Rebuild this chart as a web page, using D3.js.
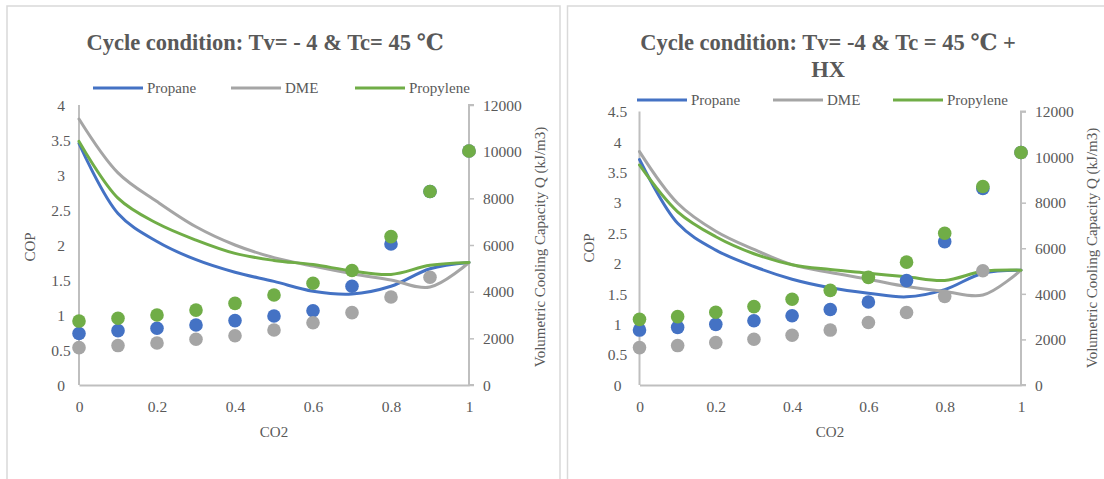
<!DOCTYPE html>
<html>
<head>
<meta charset="utf-8">
<script src="https://cdn.jsdelivr.net/npm/d3@7"></script>
<style>
  html, body { margin: 0; padding: 0; background: #fff; }
  svg { display: block; }
  text { font-family: "Liberation Serif", "Times New Roman", "DejaVu Serif", serif; fill: #595959; }
</style>
</head>
<body>
<svg id="chart" width="1104" height="479"></svg>
<script>
// ---------- data ----------
const co2 = [0, 0.1, 0.2, 0.3, 0.4, 0.5, 0.6, 0.7, 0.8, 0.9, 1];
const seriesNames = ["Propane", "DME", "Propylene"];
const titleA = ["Cycle condition: Tv= - 4  & Tc= 45 \u2103"];
const titleB = ["Cycle condition: Tv= -4 & Tc = 45 \u2103  +", "HX"];
const xTicks = [0, 0.2, 0.4, 0.6, 0.8, 1];
const copTicksA = [0, 0.5, 1, 1.5, 2, 2.5, 3, 3.5, 4];
const copTicksB = [0, 0.5, 1, 1.5, 2, 2.5, 3, 3.5, 4, 4.5];
const qTicks = [0, 2000, 4000, 6000, 8000, 10000, 12000];

// Chart A (no HX): COP (lines, left axis)
const copPropaneA   = [3.45, 2.45, 2.05, 1.79, 1.61, 1.48, 1.34, 1.30, 1.41, 1.66, 1.75];
const copDmeA       = [3.80, 3.03, 2.62, 2.26, 2.00, 1.82, 1.70, 1.59, 1.50, 1.40, 1.75];
const copPropyleneA = [3.48, 2.67, 2.31, 2.07, 1.88, 1.78, 1.72, 1.63, 1.58, 1.71, 1.75];
// Chart A: volumetric cooling capacity (points, right axis)
const qPropaneA   = [2210, 2330, 2430, 2570, 2760, 2960, 3180, 4230, 6040, 8290, 10030];
const qDmeA       = [1600, 1690, 1800, 1960, 2110, 2360, 2670, 3100, 3770, 4620, 10030];
const qPropyleneA = [2740, 2860, 3000, 3210, 3500, 3860, 4360, 4910, 6360, 8290, 10030];

// Chart B (+HX): COP
const copPropaneB   = [3.71, 2.66, 2.22, 1.95, 1.74, 1.60, 1.51, 1.45, 1.57, 1.84, 1.89];
const copDmeB       = [3.84, 2.99, 2.53, 2.23, 1.98, 1.85, 1.74, 1.62, 1.54, 1.48, 1.89];
const copPropyleneB = [3.62, 2.85, 2.44, 2.16, 1.98, 1.90, 1.84, 1.78, 1.72, 1.87, 1.89];
// Chart B: volumetric cooling capacity
const qPropaneB   = [2410, 2530, 2660, 2820, 3040, 3310, 3640, 4580, 6290, 8620, 10200];
const qDmeB       = [1640, 1730, 1860, 2010, 2180, 2410, 2740, 3180, 3890, 5010, 10200];
const qPropyleneB = [2880, 3000, 3190, 3440, 3760, 4150, 4720, 5390, 6660, 8710, 10200];

// ---------- styling ----------
const colors = { "Propane": "#4472C4", "DME": "#A5A5A5", "Propylene": "#70AD47" };
const axisColor = "#BFBFBF";
const fmt = d => String(d);

const svg = d3.select("#chart");
svg.append("rect").attr("width", 1104).attr("height", 479).attr("fill", "#fff");

// panel frames
svg.append("rect").attr("x", 7).attr("y", 6).attr("width", 553).attr("height", 480)
  .attr("fill", "none").attr("stroke", "#D9D9D9").attr("stroke-width", 1.5);
svg.append("rect").attr("x", 567.5).attr("y", 6).attr("width", 560).attr("height", 480)
  .attr("fill", "none").attr("stroke", "#D9D9D9").attr("stroke-width", 1.5);

function drawChart(cfg) {
  const g = svg.append("g");
  const x = d3.scaleLinear().domain([0, 1]).range([cfg.x0, cfg.x1]);
  const yL = d3.scaleLinear().domain([0, cfg.copMax]).range([cfg.yBottom, cfg.yTop]);
  const yR = d3.scaleLinear().domain([0, 12000]).range([cfg.yBottom, cfg.yTop]);

  // title
  cfg.title.forEach((t, i) => {
    g.append("text").attr("x", cfg.titleX).attr("y", cfg.titleY + i * 27)
      .attr("text-anchor", "middle").attr("font-size", cfg.titleSize).attr("font-weight", "bold")
      .text(t);
  });

  // legend
  cfg.legend.forEach((lg, i) => {
    const name = seriesNames[i];
    g.append("line").attr("x1", lg[0]).attr("x2", lg[0] + 50)
      .attr("y1", cfg.legendY).attr("y2", cfg.legendY)
      .attr("stroke", colors[name]).attr("stroke-width", 3);
    g.append("text").attr("x", lg[0] + 54).attr("y", cfg.legendY + 5)
      .attr("font-size", 15).text(name);
  });

  // left axis
  const axL = g.append("g").attr("transform", `translate(${cfg.x0},0)`)
    .call(d3.axisLeft(yL).tickValues(cfg.copTicks).tickSize(0).tickPadding(0).tickFormat(fmt));
  axL.select(".domain").attr("stroke", axisColor).attr("stroke-width", 2)
    .attr("d", `M0,${cfg.yTop}V${cfg.yBottom}`);
  axL.selectAll(".tick text").attr("font-size", 15.5).attr("fill", "#595959")
    .attr("font-family", "Liberation Serif").attr("text-anchor", "middle")
    .attr("x", cfg.leftLabelDx).attr("dy", "0.34em");

  // right axis
  const axR = g.append("g").attr("transform", `translate(${cfg.x1},0)`)
    .call(d3.axisRight(yR).tickValues(qTicks).tickSize(5).tickPadding(9).tickFormat(fmt));
  axR.select(".domain").attr("stroke", axisColor).attr("stroke-width", 2)
    .attr("d", `M5,${cfg.yTop}H0V${cfg.yBottom}H5`);
  axR.selectAll(".tick line").attr("stroke", axisColor).attr("stroke-width", 1.5);
  axR.selectAll(".tick text").attr("font-size", 15.5).attr("fill", "#595959")
    .attr("font-family", "Liberation Serif").attr("dy", "0.34em");

  // bottom axis
  const axB = g.append("g").attr("transform", `translate(0,${cfg.yBottom})`)
    .call(d3.axisBottom(x).tickValues(xTicks).tickSize(0).tickPadding(16).tickFormat(fmt));
  axB.select(".domain").attr("stroke", axisColor).attr("stroke-width", 2);
  axB.selectAll(".tick text").attr("font-size", 15.5).attr("fill", "#595959")
    .attr("font-family", "Liberation Serif");

  // axis titles
  g.append("text").attr("transform", `translate(${cfg.copTitleX},${cfg.axisTitleY}) rotate(-90)`)
    .attr("text-anchor", "middle").attr("dy", "0.35em").attr("font-size", 15).text("COP");
  g.append("text").attr("transform", `translate(${cfg.qTitleX},${cfg.axisTitleY}) rotate(-90)`)
    .attr("text-anchor", "middle").attr("dy", "0.35em").attr("font-size", 15)
    .text("Volumetric Cooling Capacity Q (kJ/m3)");
  g.append("text").attr("x", cfg.co2TitleX).attr("y", 437)
    .attr("text-anchor", "middle").attr("font-size", 15).text("CO2");

  // COP lines
  const line = d3.line().x((d, i) => x(co2[i])).y(d => yL(d)).curve(d3.curveCatmullRom.alpha(0.5));
  cfg.cop.forEach((vals, i) => {
    g.append("path").datum(vals).attr("d", line).attr("fill", "none")
      .attr("stroke", colors[seriesNames[i]]).attr("stroke-width", 3)
      .attr("stroke-linejoin", "round").attr("stroke-linecap", "round");
  });

  // Q points
  cfg.q.forEach((vals, i) => {
    g.append("g").selectAll("circle").data(vals).join("circle")
      .attr("cx", (d, j) => x(co2[j])).attr("cy", d => yR(d)).attr("r", 6.8)
      .attr("fill", colors[seriesNames[i]]);
  });
}

drawChart({
  x0: 79, x1: 469, yTop: 105, yBottom: 385, copMax: 4, copTicks: copTicksA,
  title: titleA, titleX: 265, titleY: 50, titleSize: 22.5,
  legendY: 88, legend: [[93], [231], [355]],
  leftLabelDx: -18, copTitleX: 30, qTitleX: 540, axisTitleY: 247, co2TitleX: 274,
  cop: [copPropaneA, copDmeA, copPropyleneA],
  q: [qPropaneA, qDmeA, qPropyleneA]
});

drawChart({
  x0: 639.5, x1: 1021, yTop: 111.5, yBottom: 385, copMax: 4.5, copTicks: copTicksB,
  title: titleB, titleX: 828, titleY: 50, titleSize: 22.5,
  legendY: 100, legend: [[637], [773], [893]],
  leftLabelDx: -22, copTitleX: 589, qTitleX: 1092, axisTitleY: 248, co2TitleX: 830,
  cop: [copPropaneB, copDmeB, copPropyleneB],
  q: [qPropaneB, qDmeB, qPropyleneB]
});
</script>
</body>
</html>
